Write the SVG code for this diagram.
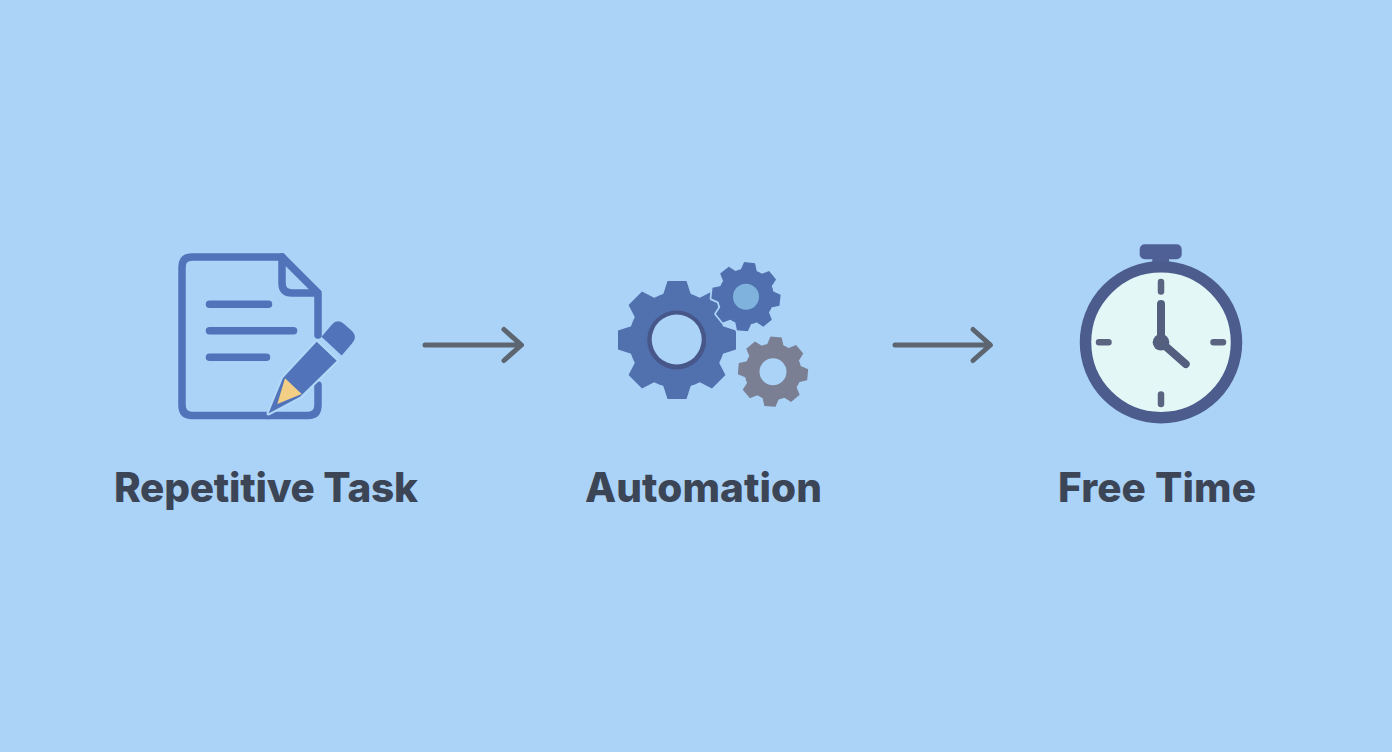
<svg xmlns="http://www.w3.org/2000/svg" width="1392" height="752" viewBox="0 0 1392 752">
<style>
.lbl{font-family:Inter,"Liberation Sans",sans-serif;font-weight:800;font-size:40.500px;fill:#3c4556;text-anchor:middle}
.doc{fill:none;stroke:#5173ba;stroke-width:7.500;stroke-linecap:round;stroke-linejoin:round}
.ln{fill:none;stroke:#5173ba;stroke-width:7.500;stroke-linecap:round}
.arrow{fill:none;stroke:#5c6570;stroke-width:5;stroke-linecap:round;stroke-linejoin:round}
.tick{fill:none;stroke:#5a6480;stroke-width:6.500;stroke-linecap:round}
.hand{fill:none;stroke:#545f80;stroke-width:8;stroke-linecap:round}
</style>
<defs>
<g id="gear">
<circle r="48"/>
<polygon id="tooth" points="-14,-45 -9.500,-59 9.500,-59 14,-45"/>
<use href="#tooth" transform="rotate(45)"/><use href="#tooth" transform="rotate(90)"/><use href="#tooth" transform="rotate(135)"/><use href="#tooth" transform="rotate(180)"/><use href="#tooth" transform="rotate(225)"/><use href="#tooth" transform="rotate(270)"/><use href="#tooth" transform="rotate(315)"/>
</g>
</defs>
<rect width="1392" height="752" fill="#abd3f8"/>
<g id="connectors">
<g id="arrow-1"><path class="arrow" d="M425 345H520.500M504 329.500L521.500 345L504 360.500"/></g>
<g id="arrow-2"><path class="arrow" d="M895 345H989.500M973 329.500L990.500 345L973 360.500"/></g>
</g>
<g id="node-task">
<path class="doc" d="M282 257H192Q182 257 182 267V405Q182 415.500 192 415.500H268"/>
<path class="doc" d="M318 385V405Q318 415.500 308 415.500H268M318 335V293L282 257V283Q282 293 292 293H318"/>
<path class="ln" d="M209.500 304.300H268.500M209.500 330.700H293.500M209.500 357.300H266.500"/>
<path d="M316.700 341.700L336.700 360.700L300 396.700L268.500 413.500L283 378Z" fill="#5173ba" stroke="#b4d9f8" stroke-width="4" stroke-linejoin="round" paint-order="stroke"/>
<path d="M321.500 336.700L332 324.500Q337 318.500 343.500 323.500L352 331Q358 337 352 343.500L341.700 355.500Z" fill="#5173ba"/>
<path d="M285 378.300L301.700 394L277.300 404Z" fill="#f2cf85"/>
<text class="lbl" x="266" y="502" textLength="304">Repetitive Task</text>
</g>
<g id="node-automation">
<use href="#gear" transform="translate(677 340)" fill="#5070ae"/>
<circle cx="676.700" cy="340" r="29.500" fill="#47578a"/>
<circle cx="676.700" cy="339.500" r="25" fill="#abd3f8"/>
<use href="#gear" transform="translate(746 296.700) rotate(6) scale(.58)" fill="#abd3f8" stroke="#abd3f8" stroke-width="6" stroke-linejoin="round"/>
<use href="#gear" transform="translate(746 296.700) rotate(6) scale(.58)" fill="#4f6fae"/>
<circle cx="746" cy="296.700" r="13" fill="#7fb2dc"/>
<use href="#gear" transform="translate(773 371.700) rotate(5) scale(.59)" fill="#7a7f93"/>
<circle cx="773" cy="371.700" r="13.500" fill="#abd3f8"/>
<text class="lbl" x="703.500" y="502" textLength="237">Automation</text>
</g>
<g id="node-time">
<rect x="1152.300" y="256" width="16.700" height="10" fill="#4f6096"/>
<rect x="1139.700" y="244.300" width="42" height="15" rx="5" fill="#4f6096"/>
<circle cx="1161" cy="342.300" r="75.500" fill="#e3f7f7" stroke="#4c5d8d" stroke-width="11.500"/>
<path class="tick" d="M1161 282V291.500M1161 394.500V404M1099 342.300H1108.500M1213.500 342.300H1223"/>
<path class="hand" d="M1161 342.300V304M1161 342.300L1185.700 364"/>
<circle cx="1161" cy="342.300" r="8.300" fill="#545f80"/>
<text class="lbl" x="1157" y="502" textLength="198">Free Time</text>
</g>
</svg>
